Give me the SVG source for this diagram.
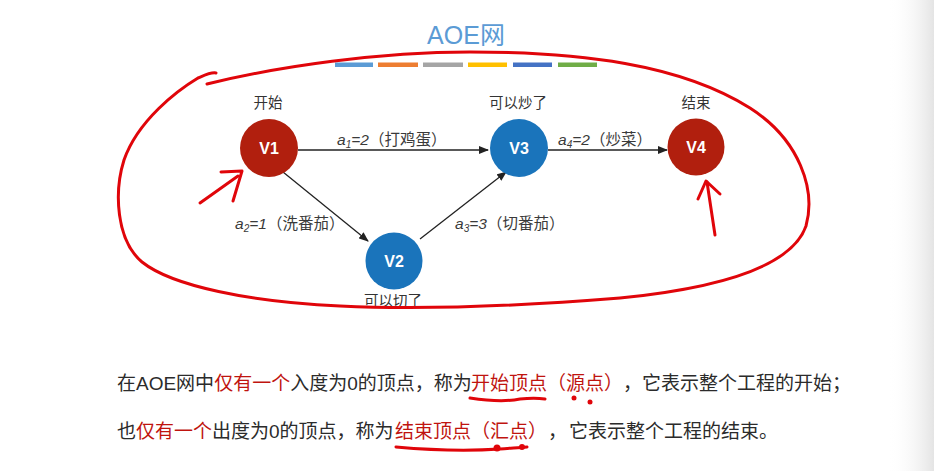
<svg xmlns="http://www.w3.org/2000/svg" width="934" height="471" viewBox="0 0 934 471">
  <defs>
    <linearGradient id="edge" x1="0" y1="0" x2="1" y2="0">
      <stop offset="0" stop-color="#ffffff" stop-opacity="0"/>
      <stop offset="1" stop-color="#e4e4e4"/>
    </linearGradient>
    <marker id="arr" markerWidth="10" markerHeight="8" refX="9" refY="4" orient="auto" markerUnits="userSpaceOnUse">
      <path d="M0,0 L10,4 L0,8 Z" fill="#222"/>
    </marker>
    <style>
      .cjk { font-family: "Liberation Sans", "Noto Sans CJK SC", sans-serif; }
      .lbl { font-size: 14.5px; fill: #333; text-anchor: middle; }
      .vt { font-size: 16px; font-weight: bold; fill: #fff; text-anchor: middle; }
      .el { font-size: 15.5px; fill: #3a3a3a; }
      .it { font-style: italic; }
      .sub { font-size: 10px; font-style: italic; }
      .edge { stroke: #222; stroke-width: 1.3; fill: none; marker-end: url(#arr); }
      .red-node { fill: #b11f0e; }
      .blue-node { fill: #1a74bb; }
      .body { font-size: 19px; fill: #2b2b2b; }
      .hl { fill: #c0140f; }
      .pen { stroke: #e0050a; stroke-width: 3; fill: none; stroke-linecap: round; stroke-linejoin: round; }
    </style>
  </defs>
  <rect width="934" height="471" fill="#ffffff"/>
  <rect x="888" y="0" width="46" height="471" fill="url(#edge)"/>

  <!-- title -->
  <g id="title">
    <text x="466" y="44" class="cjk" font-size="25" fill="#5b9bd5" text-anchor="middle">AOE网</text>
    <rect x="335" y="62.5" width="38" height="4.5" fill="#5b9bd5"/>
    <rect x="378" y="62.5" width="40" height="4.5" fill="#ed7d31"/>
    <rect x="423" y="62.5" width="40" height="4.5" fill="#a5a5a5"/>
    <rect x="468" y="62.5" width="39" height="4.5" fill="#ffc000"/>
    <rect x="513" y="62.5" width="39" height="4.5" fill="#4472c4"/>
    <rect x="558" y="62.5" width="39" height="4.5" fill="#70ad47"/>
  </g>

  <!-- connectors -->
  <g id="connectors">
    <line class="edge" x1="298" y1="150" x2="488" y2="150"/>
    <line class="edge" x1="548" y1="150" x2="667" y2="150"/>
    <line class="edge" x1="283" y1="172" x2="368" y2="241"/>
    <line class="edge" x1="420" y1="239" x2="506" y2="172"/>
    <text class="cjk el" x="337" y="145"><tspan class="it">a</tspan><tspan class="sub" dy="3">1</tspan><tspan class="it" dy="-3">=2</tspan>（打鸡蛋）</text>
    <text class="cjk el" x="558" y="145"><tspan class="it">a</tspan><tspan class="sub" dy="3">4</tspan><tspan class="it" dy="-3">=2</tspan>（炒菜）</text>
    <text class="cjk el" x="235" y="229"><tspan class="it">a</tspan><tspan class="sub" dy="3">2</tspan><tspan class="it" dy="-3">=1</tspan>（洗番茄）</text>
    <text class="cjk el" x="455" y="229"><tspan class="it">a</tspan><tspan class="sub" dy="3">3</tspan><tspan class="it" dy="-3">=3</tspan>（切番茄）</text>
  </g>

  <!-- nodes -->
  <g id="V1">
    <circle cx="269" cy="148" r="29" class="red-node"/>
    <text x="269" y="154" class="cjk vt">V1</text>
    <text x="268" y="108" class="cjk lbl">开始</text>
  </g>
  <g id="V2">
    <circle cx="394" cy="261" r="28.5" class="blue-node"/>
    <text x="394" y="267" class="cjk vt">V2</text>
    <text x="393" y="306" class="cjk lbl">可以切了</text>
  </g>
  <g id="V3">
    <circle cx="519" cy="148" r="29" class="blue-node"/>
    <text x="519" y="154" class="cjk vt">V3</text>
    <text x="518" y="108" class="cjk lbl">可以炒了</text>
  </g>
  <g id="V4">
    <circle cx="696" cy="147" r="28.5" class="red-node"/>
    <text x="696" y="153" class="cjk vt">V4</text>
    <text x="696" y="108" class="cjk lbl">结束</text>
  </g>

  <!-- body text -->
  <g id="description">
    <text x="117" y="390" class="cjk body">在AOE网中<tspan class="hl">仅有一个</tspan>入度为0的顶点，称为</text>
    <text x="471" y="390" class="cjk body hl">开始顶点（源点）</text>
    <text x="623" y="390" class="cjk body">，</text>
    <text x="642" y="390" class="cjk body" font-size="18.6">它表示整个工程的开始；</text>
    <text x="117" y="438" class="cjk body">也<tspan class="hl">仅有一个</tspan>出度为0的顶点，称为</text>
    <text x="395" y="438" class="cjk body hl">结束顶点（汇点）</text>
    <text x="548" y="438" class="cjk body">，</text>
    <text x="569" y="438" class="cjk body">它表示整个工程的结束。</text>
  </g>

  <!-- hand-drawn annotations -->
  <g id="annotations">
    <path class="pen" d="M207,84 C280,66 380,52 470,52 C580,52 680,64 750,108 C800,140 816,190 806,226 C792,266 720,288 620,298 C520,306 420,310 340,306 C250,302 172,286 142,262 C116,240 114,192 124,160 C138,120 178,90 198,78 C205,75 211,72 216,73"/>
    <path class="pen" d="M200,203 L238,176"/>
    <path class="pen" d="M221,172 L242,171 L233,201"/>
    <path class="pen" d="M715,235 L707,182"/>
    <path class="pen" d="M698,199 L706,181 L720,194"/>
    <path class="pen" d="M470,398 C490,401 505,402 520,399 C530,398 538,398 545,399"/>
    <circle cx="574" cy="398" r="2.5" fill="#e0050a"/>
    <circle cx="590" cy="402" r="2.5" fill="#e0050a"/>
    <path class="pen" d="M396,447 C430,450 470,451 500,449 C510,448 518,448 527,447"/>
    <circle cx="497" cy="448" r="3.5" fill="#e0050a"/>
    <circle cx="522" cy="447" r="3" fill="#e0050a"/>
  </g>
</svg>
